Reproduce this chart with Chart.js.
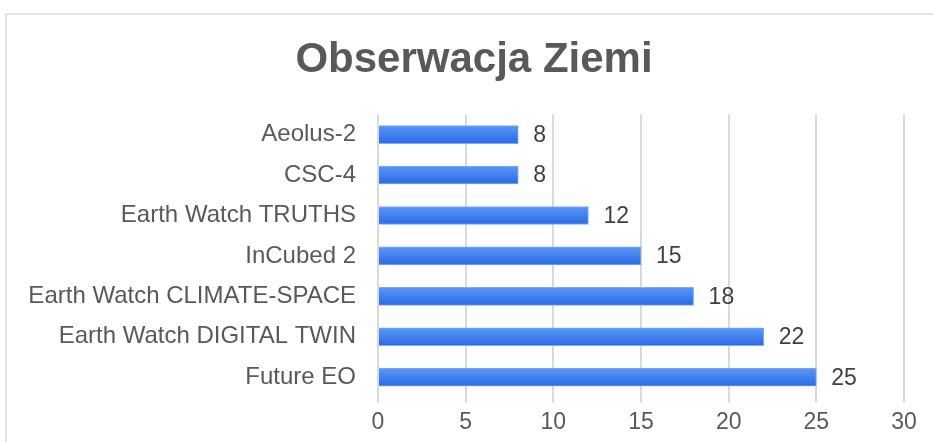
<!DOCTYPE html>
<html>
<head>
<meta charset="utf-8">
<script src="https://cdn.jsdelivr.net/npm/chart.js@4"></script>
<style>
  html, body { margin: 0; padding: 0; background: #fff; }
  #wrap { position: relative; width: 933px; height: 442px; overflow: hidden; }
  #frame { position: absolute; left: 5px; top: 13px; width: 1000px; height: 500px;
           border-top: 2px solid #e2e2e2; border-left: 2px solid #e2e2e2; }
  #Chart { position: absolute; left: 0; top: 0; }
</style>
</head>
<body>
<div id="wrap">
  <div id="frame"></div>
  <canvas id="Chart" width="933" height="442"></canvas>
</div>
<script>
// dane wykresu
let projekty = ['Aeolus-2', 'CSC-4', 'Earth Watch TRUTHS', 'InCubed 2',
                'Earth Watch CLIMATE-SPACE', 'Earth Watch DIGITAL TWIN', 'Future EO'];
let wartosci = [8, 8, 12, 15, 18, 22, 25];
let xTicks = [0, 5, 10, 15, 20, 25, 30];

Chart.defaults.font.family = "'Liberation Sans', Arial, sans-serif";

// gradient na kazdym slupku (jasniejszy u gory)
function barGradient(context) {
    let chart = context.chart;
    let yScale = chart.scales.y;
    if (!chart.chartArea || !yScale || context.dataIndex === undefined) return '#3d7ff0';
    let yc = yScale.getPixelForValue(context.dataIndex);
    let g = chart.ctx.createLinearGradient(0, yc - 9, 0, yc + 9);
    g.addColorStop(0, '#5a97f7');
    g.addColorStop(1, '#2a6ae6');
    return g;
}

// etykiety z wartosciami za slupkiem
let valueLabels = {
    id: 'valueLabels',
    afterDatasetsDraw(chart) {
        let ctx = chart.ctx;
        let meta = chart.getDatasetMeta(0);
        ctx.save();
        ctx.font = "23px 'Liberation Sans', Arial, sans-serif";
        ctx.fillStyle = '#404040';
        ctx.textAlign = 'left';
        ctx.textBaseline = 'middle';
        meta.data.forEach(function (bar, i) {
            ctx.fillText(String(wartosci[i]), bar.x + 15, bar.y + 1);
        });
        ctx.restore();
    }
};

// dlugie etykiety osi Y nie moga byc obcinane z lewej
let wideLabels = {
    id: 'wideLabels',
    afterLayout(chart) {
        chart.scales.y.left = 0;
    }
};

let ctx = document.getElementById('Chart').getContext('2d');
let myChart = new Chart(ctx, {
    type: 'bar',
    data: {
        labels: projekty,
        datasets: [{
            data: wartosci,
            backgroundColor: barGradient,
            borderColor: '#7eaaf7',
            borderWidth: 1,
            barThickness: 18
        }]
    },
    plugins: [valueLabels, wideLabels],
    options: {
        indexAxis: 'y',
        responsive: false,
        animation: false,
        layout: { padding: { left: 44, right: 29, top: 25, bottom: 0 } },
        plugins: {
            legend: { display: false },
            tooltip: { enabled: false },
            title: {
                display: true,
                text: 'Obserwacja Ziemi',
                color: '#595959',
                font: { size: 42, weight: 'bold' },
                padding: { top: 10, bottom: 29 }
            }
        },
        scales: {
            x: {
                min: 0,
                max: 30,
                afterBuildTicks(scale) { scale.ticks = xTicks.map(v => ({ value: v })); },
                grid: { color: '#d9d9d9', lineWidth: 2, tickLength: 5, drawTicks: true },
                border: { display: false },
                ticks: { color: '#595959', font: { size: 23 }, padding: 6 }
            },
            y: {
                afterFit(scale) { scale.width = 334; },
                grid: { display: false },
                border: { display: false },
                ticks: { color: '#595959', font: { size: 24 }, padding: 14 }
            }
        }
    }
});
</script>
</body>
</html>
